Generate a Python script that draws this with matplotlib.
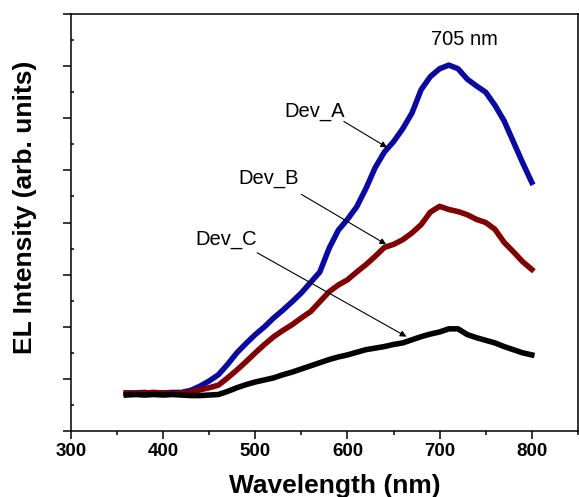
import matplotlib
matplotlib.use('Agg')
import matplotlib.pyplot as plt
from matplotlib.ticker import MultipleLocator, NullFormatter

plt.rcParams['font.family'] = ['Liberation Sans', 'DejaVu Sans']

# wavelength grid (nm) and estimated EL intensities (arb. units)
wavelength = [360, 370, 380, 390, 400, 410, 420, 430, 440, 450, 460, 470, 480,
              490, 500, 510, 520, 530, 540, 550, 560, 570, 580, 590, 600, 610,
              620, 630, 640, 650, 660, 670, 680, 690, 700, 710, 720, 730, 740,
              750, 760, 770, 780, 790, 800]
dev_a = [0.73, 0.73, 0.74, 0.72, 0.73, 0.74, 0.74, 0.78, 0.86, 0.96, 1.08, 1.28,
         1.50, 1.68, 1.85, 2.00, 2.17, 2.32, 2.48, 2.65, 2.85, 3.05, 3.50, 3.85,
         4.06, 4.30, 4.65, 5.05, 5.35, 5.55, 5.80, 6.10, 6.55, 6.80, 6.95, 7.02,
         6.95, 6.75, 6.62, 6.50, 6.25, 5.95, 5.55, 5.15, 4.77]
dev_b = [0.73, 0.72, 0.73, 0.74, 0.73, 0.72, 0.73, 0.75, 0.79, 0.83, 0.88, 1.02,
         1.17, 1.33, 1.50, 1.66, 1.81, 1.93, 2.04, 2.17, 2.29, 2.48, 2.67, 2.80,
         2.90, 3.05, 3.19, 3.35, 3.52, 3.58, 3.67, 3.80, 3.96, 4.20, 4.31, 4.25,
         4.21, 4.15, 4.06, 4.00, 3.87, 3.62, 3.44, 3.25, 3.10]
dev_c = [0.69, 0.70, 0.69, 0.70, 0.69, 0.70, 0.69, 0.68, 0.68, 0.69, 0.70, 0.76,
         0.83, 0.89, 0.94, 0.98, 1.02, 1.08, 1.13, 1.19, 1.25, 1.31, 1.37, 1.42,
         1.46, 1.51, 1.56, 1.59, 1.62, 1.66, 1.69, 1.75, 1.81, 1.86, 1.90, 1.96,
         1.96, 1.85, 1.79, 1.74, 1.69, 1.62, 1.56, 1.50, 1.46]

fig = plt.figure(figsize=(5.79, 4.97), dpi=100)
ax = fig.add_axes([0.1226, 0.1328, 0.8754, 0.839])

ax.plot(wavelength, dev_a, color='#0a0aa0', lw=4, solid_joinstyle='round')
ax.plot(wavelength, dev_b, color='#800000', lw=4, solid_joinstyle='round')
ax.plot(wavelength, dev_c, color='black', lw=4, solid_joinstyle='round')

ax.set_xlim(300, 850)
ax.set_ylim(0, 8)
ax.xaxis.set_major_locator(MultipleLocator(100))
ax.xaxis.set_minor_locator(MultipleLocator(50))
ax.yaxis.set_major_locator(MultipleLocator(1))
ax.yaxis.set_minor_locator(MultipleLocator(0.5))
ax.yaxis.set_major_formatter(NullFormatter())
ax.tick_params(axis='x', which='major', direction='out', length=5.5, width=1.1,
               labelsize=13.5, pad=3)
ax.tick_params(axis='x', which='minor', direction='out', length=3, width=1.1)
ax.tick_params(axis='y', which='major', direction='out', length=5.5, width=1.1)
ax.tick_params(axis='y', which='minor', direction='in', length=2.5, width=1.1)
for lab in ax.get_xticklabels():
    lab.set_fontweight('bold')
for s in ax.spines.values():
    s.set_linewidth(1.1)

ax.set_xlabel('Wavelength (nm)', fontsize=19, fontweight='bold')
ax.xaxis.set_label_coords(0.521, -0.104)
ax.xaxis.label.set_va('top')
ax.set_ylabel('EL Intensity (arb. units)', fontsize=19, fontweight='bold')
ax.yaxis.set_label_coords(-0.068, 0.537)

ax.text(727, 7.52, '705 nm', fontsize=14.5, ha='center', va='center')

arrow = dict(arrowstyle='-|>', color='black', lw=0.8, mutation_scale=9,
             shrinkA=0, shrinkB=0)
ax.text(564, 6.13, 'Dev_A', fontsize=14.5, ha='center', va='center')
ax.annotate('', xy=(643, 5.44), xytext=(596, 5.94), arrowprops=arrow)
ax.text(514, 4.85, 'Dev_B', fontsize=14.5, ha='center', va='center')
ax.annotate('', xy=(642, 3.58), xytext=(550, 4.54), arrowprops=arrow)
ax.text(468, 3.67, 'Dev_C', fontsize=14.5, ha='center', va='center')
ax.annotate('', xy=(664, 1.81), xytext=(502, 3.42), arrowprops=arrow)

fig.savefig('out.png', dpi=100, facecolor='white')
